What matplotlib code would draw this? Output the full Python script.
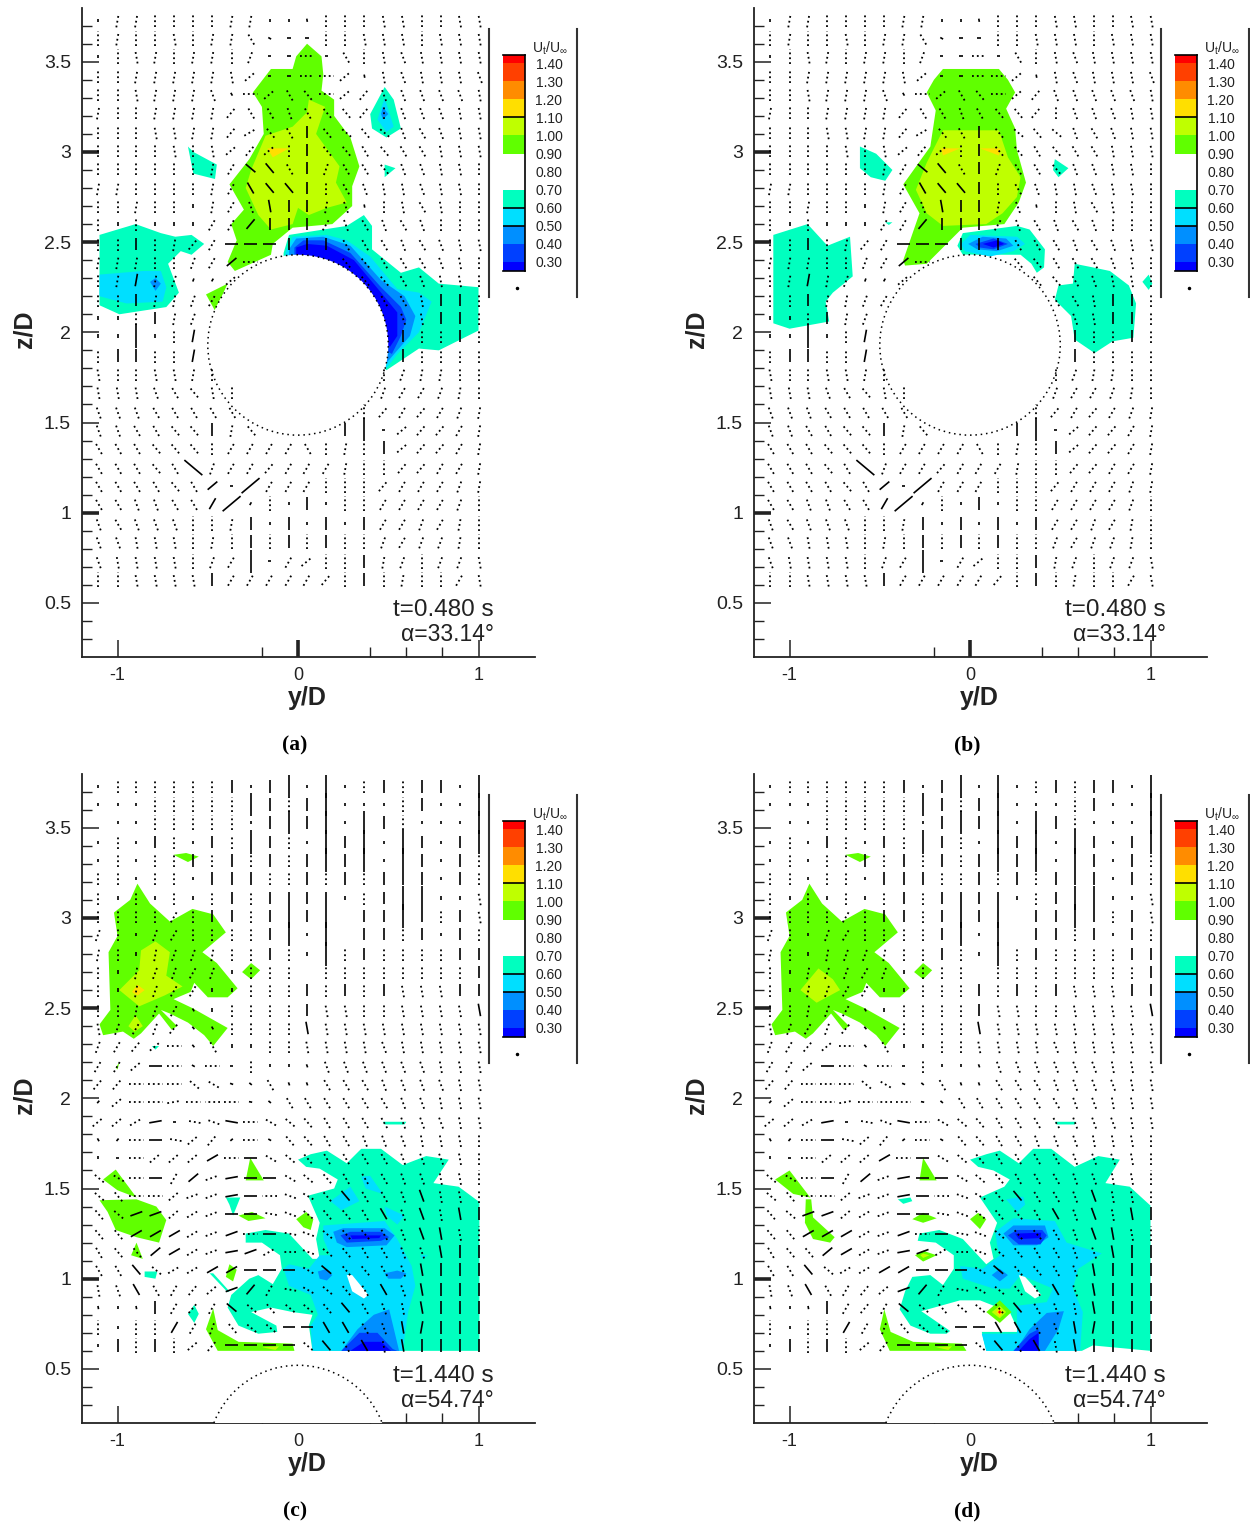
import numpy as np
from matplotlib import pyplot as plt
from matplotlib.collections import LineCollection
from matplotlib.lines import Line2D
from matplotlib.patches import Circle

W, H = 1250, 1525

plt.rcParams['font.family'] = ['Liberation Sans', 'DejaVu Sans']
plt.rcParams['mathtext.default'] = 'regular'

colors = {'dark': '#0000ff', 'blue': '#0040ff', 'light': '#008fff', 'cyan': '#00dfff',
          'teal': '#00ffbf', 'white': '#ffffff', 'green': '#60ff00', 'lime': '#bfff00',
          'yellow': '#ffdf00', 'orange': '#ff8c00', 'redor': '#ff4000', 'red': '#ff0000'}

# legend
band_edges = [0.25, 0.30, 0.40, 0.50, 0.60, 0.70, 0.90, 1.00, 1.10, 1.20, 1.30, 1.40, 1.445]
band_names = ['dark', 'blue', 'light', 'cyan', 'teal', 'white', 'green', 'lime', 'yellow', 'orange', 'redor', 'red']
legend_levels = [0.30, 0.40, 0.50, 0.60, 0.70, 0.80, 0.90, 1.00, 1.10, 1.20, 1.30, 1.40]
legend_lines = [0.50, 0.60, 1.10]

# vector grid
grid_y = [-1.107, -1.0, -0.896, -0.79, -0.685, -0.58, -0.474, -0.368, -0.263, -0.157, -0.05,
          0.05, 0.157, 0.263, 0.368, 0.474, 0.58, 0.685, 0.79, 0.896, 1.005]
grid_z = [3.73, 3.63, 3.53, 3.42, 3.32, 3.22, 3.11, 3.01, 2.91, 2.80, 2.70, 2.60, 2.49, 2.39, 2.29, 2.18,
          2.08, 1.98, 1.87, 1.77, 1.67, 1.56, 1.46, 1.36, 1.25, 1.15, 1.05, 0.94, 0.84, 0.73, 0.63]
vec_len = [0, 0.018, 0.08, 0.07, 0.13]

# tilt in tens of degrees from vertical, + leans right
tilt_early = [
    [0,1,1,0,0,0,0,1,1,0,0,-1,0,0,0,-1,-1,0,0,-1,-1],
    [0,1,0,0,-1,0,1,1,-3,-6,9,9,0,0,-1,-1,-1,0,-1,-1,-1],
    [0,0,-1,1,0,1,1,0,2,9,9,9,9,-3,0,-1,-2,-1,-1,-1,-1],
    [0,0,1,1,1,1,1,-1,5,9,9,9,9,5,-1,-1,-2,-1,-1,-1,-2],
    [0,0,-1,1,1,1,-2,-3,9,5,-3,-4,9,5,4,-2,-2,-2,-2,-2,-1],
    [1,0,0,1,1,1,1,4,-3,-3,-2,-3,-4,-4,4,0,-2,-2,-2,-1,-1],
    [0,0,0,-1,-1,1,1,4,6,-4,-3,0,-4,-5,-4,-5,-2,-3,-2,-1,-1],
    [0,0,0,0,-1,0,-1,5,4,5,0,0,-4,-4,-3,-4,-3,-3,-1,-1,-1],
    [0,0,0,0,0,0,1,3,-5,-4,-3,0,2,-3,-3,-4,-2,-2,-1,-1,0],
    [1,1,0,0,0,0,1,3,-3,-4,-4,0,0,-3,-2,-1,-1,-2,-1,-1,0],
    [0,0,1,0,0,0,1,3,-2,-1,0,0,1,-2,-1,0,-1,-3,-1,0,0],
    [0,0,0,0,0,0,3,3,4,0,0,0,3,-2,-3,-2,-3,-2,0,0,0],
    [0,0,0,0,1,4,3,9,9,9,0,0,0,-3,-3,-3,-2,-3,-2,-1,-1],
    [1,1,1,0,0,2,3,5,9,0,0,0,0,-4,-4,-3,-3,-3,-2,-1,0],
    [0,1,1,1,2,2,3,5,0,0,0,0,0,0,-4,-4,-3,-2,-1,-1,0],
    [0,0,0,1,1,2,3,0,0,0,0,0,0,0,0,-3,-3,-1,0,0,0],
    [0,0,0,0,1,2,0,0,0,0,0,0,0,0,0,0,-2,-1,0,0,0],
    [0,0,0,0,0,1,0,0,0,0,0,0,0,0,0,0,0,0,0,0,0],
    [0,0,0,0,0,1,0,0,0,0,0,0,0,0,0,0,0,0,0,0,0],
    [-1,0,0,-1,-1,1,0,0,0,0,0,0,0,0,0,0,2,1,1,0,0],
    [-1,-1,-1,-2,-3,-4,-1,0,0,0,0,0,0,0,0,2,3,3,2,1,0],
    [-2,-2,-2,-3,-3,-3,-3,-3,0,0,0,0,0,0,0,4,3,4,3,2,1],
    [-2,-2,-3,-3,-4,-4,0,1,-4,0,0,0,0,0,0,9,5,4,4,3,1],
    [-3,-3,-3,-4,-4,-4,0,3,3,3,3,-3,0,1,0,0,5,4,4,3,1],
    [-3,-3,-3,-4,-3,-5,2,3,3,4,3,3,3,1,0,0,4,4,3,3,1],
    [-3,-3,-3,-3,-4,-3,5,9,5,3,3,3,0,0,0,4,3,3,3,2,1],
    [-3,-3,-2,-2,-3,-3,3,5,3,0,0,0,0,0,0,3,3,3,3,2,0],
    [-2,-3,-2,-2,-2,0,0,1,0,0,0,0,0,0,0,3,3,2,3,1,0],
    [-2,-2,-1,-1,-1,0,1,0,0,0,0,0,0,0,0,2,3,2,2,1,0],
    [-2,-1,-1,-1,-1,0,2,3,0,9,3,5,0,0,0,1,2,0,2,2,-1],
    [0,0,-1,-1,-1,-1,0,3,3,3,3,3,4,0,0,0,1,0,0,3,-1],
]
size_early = [
    [1,2,2,2,2,2,2,2,2,1,1,1,2,2,2,2,2,2,2,2,2],
    [2,2,2,2,2,2,2,2,2,1,1,1,2,2,2,2,2,2,2,2,2],
    [1,2,2,2,2,2,2,2,2,1,1,2,1,2,2,2,2,2,2,2,2],
    [2,2,2,2,2,2,2,2,2,1,1,2,2,2,1,2,2,2,2,2,2],
    [2,2,2,2,2,2,2,1,2,2,2,2,2,2,2,2,2,2,2,2,2],
    [2,2,2,2,2,2,2,2,2,2,2,2,2,2,2,2,2,2,2,2,2],
    [2,2,2,2,2,2,2,2,2,2,2,3,2,2,2,2,2,2,2,2,2],
    [2,2,2,2,2,2,2,2,2,2,2,3,2,2,2,2,2,2,2,2,2],
    [2,2,2,2,2,2,2,2,3,3,2,3,2,2,2,2,2,2,2,2,2],
    [2,2,2,2,2,2,2,2,3,3,3,3,2,2,2,2,2,2,2,2,2],
    [2,2,2,2,2,1,2,2,2,3,3,3,2,2,1,2,2,2,2,2,2],
    [2,1,2,1,1,1,2,2,3,3,3,3,2,2,2,2,2,2,2,2,2],
    [2,2,3,2,2,2,2,3,3,3,3,3,3,2,2,2,2,2,2,2,2],
    [2,2,2,2,2,2,2,3,2,0,0,0,0,2,2,2,2,2,2,2,2],
    [2,2,3,2,2,1,1,2,0,0,0,0,0,0,2,2,2,2,2,2,2],
    [2,2,3,2,2,2,2,0,0,0,0,0,0,0,0,2,2,2,3,3,2],
    [1,1,2,3,2,2,0,0,0,0,0,0,0,0,0,0,2,2,3,3,2],
    [1,1,4,1,2,3,0,0,0,0,0,0,0,0,0,0,3,2,2,3,2],
    [2,3,3,2,2,3,0,0,0,0,0,0,0,0,0,0,3,2,2,2,2],
    [2,2,2,2,2,2,2,0,0,0,0,0,0,0,0,2,2,2,2,2,2],
    [2,2,2,2,2,2,2,2,0,0,0,0,0,0,0,2,2,2,2,2,2],
    [2,2,2,2,2,2,2,2,0,0,0,0,0,0,2,2,2,2,2,2,2],
    [2,2,2,2,2,2,3,2,2,0,0,0,0,3,4,1,2,2,2,2,2],
    [2,2,2,2,2,2,2,2,2,2,2,2,2,2,2,3,2,2,2,2,2],
    [2,2,2,2,2,4,2,2,2,2,2,2,2,2,2,2,2,2,2,2,2],
    [2,2,2,2,2,2,3,1,4,2,2,2,2,2,2,2,2,2,2,2,2],
    [2,2,2,2,2,2,3,4,1,2,1,3,1,2,2,2,2,2,2,2,2],
    [2,2,2,2,2,2,2,2,3,1,3,1,3,1,3,2,2,2,2,2,2],
    [2,2,2,2,2,2,2,2,3,2,3,2,3,2,2,2,2,2,2,2,2],
    [2,2,2,2,2,2,2,2,4,1,2,2,2,2,3,2,2,2,2,2,2],
    [2,2,2,2,2,2,3,2,2,2,2,2,2,2,3,2,2,2,2,2,2],
]
tilt_late = [
    [0,0,0,0,0,0,0,0,0,0,0,0,0,0,0,0,0,0,0,0,0],
    [0,0,0,0,0,0,0,0,0,0,0,0,0,0,0,0,0,0,0,0,0],
    [0,0,0,0,0,0,0,0,0,0,0,0,0,0,0,0,0,0,0,0,0],
    [0,0,0,0,0,0,0,0,0,0,0,0,0,0,0,0,0,0,0,0,0],
    [0,0,0,0,0,0,0,0,0,0,0,0,0,0,0,0,0,0,0,0,0],
    [0,0,0,0,0,0,0,0,0,0,0,0,0,0,0,0,0,0,0,0,0],
    [0,0,0,0,0,0,0,0,0,0,0,0,0,0,0,0,0,0,0,0,-1],
    [0,0,0,0,3,0,0,0,0,0,0,0,0,0,0,0,0,0,0,0,-1],
    [2,0,0,2,3,0,0,0,0,0,0,0,0,0,0,0,0,0,0,0,0],
    [1,0,0,1,2,2,1,0,0,0,0,0,0,0,0,0,0,0,0,0,0],
    [0,0,1,2,2,3,2,0,0,0,0,0,0,0,0,0,0,0,0,0,0],
    [0,0,1,2,3,3,0,0,0,0,0,0,0,0,0,0,-1,-1,-1,0,0],
    [0,0,1,2,3,-3,0,0,0,0,0,0,-1,-1,0,0,-1,-1,-1,-1,-1],
    [-1,2,3,2,4,-4,-3,0,0,0,0,-1,-1,-1,-1,-1,-1,-1,-1,-1,-1],
    [2,3,4,5,9,-4,-3,0,0,0,0,-1,-1,-1,-1,-2,-1,-1,-1,-1,-1],
    [3,3,5,9,9,-6,9,9,0,0,0,-2,-2,-2,-2,-2,-2,-2,-1,-1,-1],
    [4,4,9,9,9,-5,-6,-7,-5,-3,-2,-2,-3,-3,-3,-2,-2,-2,-2,-1,-1],
    [4,5,9,9,8,9,-9,9,-8,-5,-3,-3,-3,-3,-3,-3,-2,-2,-1,-1,-1],
    [5,5,6,8,9,-8,-7,-8,9,-6,-5,-4,-3,-3,-3,-3,-2,-2,-2,-1,-1],
    [-3,4,9,9,-8,5,4,5,9,-6,-4,-4,-3,-3,-2,-2,-2,-1,-1,-1,0],
    [0,9,9,5,5,5,6,9,9,-6,-5,-4,-3,-3,-3,-3,-2,-2,-2,-1,0],
    [-5,-6,9,9,3,5,7,8,9,9,-6,-5,-4,-3,-3,-3,-2,-2,-1,-1,0],
    [-5,-4,9,9,5,7,7,8,9,-9,-7,-6,-4,-4,-3,-3,-2,-2,-1,-1,0],
    [-4,-5,7,7,5,6,7,9,9,-8,-7,-5,-4,-4,-3,-3,-2,-2,-1,-1,0],
    [-4,-4,6,6,6,6,7,7,9,-9,-8,-7,-5,-4,-4,-3,-2,-2,-1,-1,0],
    [-3,-4,-4,5,6,6,7,8,7,6,-9,-7,-5,-4,-3,-3,-2,-2,-1,0,0],
    [-3,-3,-4,-5,6,6,6,6,9,9,9,-6,-5,-4,-4,-3,-2,-1,0,0,0],
    [-1,-2,-3,-3,3,4,5,7,4,3,-8,-6,-5,-4,-3,-3,-2,-1,0,0,0],
    [-1,0,-1,0,3,4,3,-5,-5,-4,-5,-5,-4,-4,-3,-2,-1,-1,0,0,0],
    [0,0,0,0,3,3,2,-4,-5,-5,9,9,-3,-3,-3,-2,-1,1,0,0,0],
    [0,0,0,0,0,5,4,9,9,9,9,-5,-4,-3,-3,-1,-1,0,0,0,0],
]
size_late = [
    [1,2,2,2,2,2,2,3,1,3,4,1,4,1,2,3,2,3,3,1,4],
    [1,1,1,2,2,2,2,2,4,3,2,3,4,1,1,1,2,3,1,1,4],
    [0,1,1,2,2,2,2,2,1,3,4,3,4,1,4,3,2,1,1,1,4],
    [1,2,1,3,2,1,3,2,4,3,2,1,4,3,4,1,4,3,1,3,4],
    [1,2,1,2,2,3,2,3,2,3,2,3,4,3,4,1,4,3,1,3,2],
    [2,2,1,2,2,1,3,3,3,2,2,3,2,3,2,3,3,3,1,3,2],
    [2,1,2,1,2,1,2,3,2,3,3,3,3,1,2,3,4,4,1,1,2],
    [2,2,2,2,2,2,3,3,2,3,4,3,4,0,3,3,4,3,2,3,2],
    [2,2,1,2,2,2,2,2,2,3,4,1,4,0,3,3,2,3,1,3,2],
    [2,2,1,2,2,2,2,2,2,3,2,1,4,2,3,2,2,2,2,3,3],
    [2,1,2,2,2,2,2,1,2,2,2,0,2,2,2,2,2,2,2,2,3],
    [2,1,2,2,2,2,1,1,2,2,2,3,2,3,2,3,2,2,2,3,3],
    [2,2,2,2,2,1,1,2,2,2,2,3,2,2,2,2,2,2,2,2,3],
    [2,2,2,2,2,1,1,2,2,2,2,3,2,2,2,2,2,2,2,2,2],
    [2,2,2,2,2,1,2,1,1,2,2,2,2,2,2,2,2,2,2,2,2],
    [2,2,2,3,2,1,2,1,2,1,1,1,2,2,2,2,2,2,2,2,2],
    [2,2,2,2,2,2,2,1,1,2,1,1,2,2,2,2,2,2,2,2,2],
    [1,2,2,2,2,2,2,2,1,1,2,2,2,2,2,2,2,2,2,2,2],
    [2,2,2,3,1,2,2,3,2,2,2,2,2,2,2,2,2,2,2,2,2],
    [1,1,2,3,2,2,2,1,2,1,2,2,2,2,2,2,2,2,2,2,2],
    [1,1,2,2,2,2,3,2,3,2,2,2,2,2,2,2,2,2,2,2,2],
    [2,2,2,3,2,3,2,3,3,3,2,2,2,2,2,2,2,2,2,2,2],
    [2,2,2,2,2,2,2,3,3,2,2,2,2,3,2,2,2,3,2,2,2],
    [2,2,3,3,2,2,2,3,3,2,2,2,2,2,2,3,2,3,2,3,3],
    [2,2,3,3,3,2,2,3,2,3,2,2,2,2,2,2,2,3,3,2,2],
    [2,2,2,3,3,2,2,3,3,2,2,2,2,2,2,2,2,2,3,3,3],
    [2,2,3,2,2,2,3,3,3,3,3,2,3,2,2,2,2,3,3,3,3],
    [2,2,3,2,2,2,2,3,3,2,2,2,2,2,2,3,2,3,3,3,3],
    [1,1,1,3,2,2,2,3,2,2,2,2,2,3,2,2,2,3,3,3,3],
    [2,1,2,2,3,2,2,2,2,2,3,3,3,3,2,2,3,3,3,3,3],
    [1,3,2,3,2,2,2,3,3,3,3,2,3,2,3,2,3,3,3,3,3],
]

# filled levels, drawn in this order (y/D, z/D)
regions_a = [
    ('green', [(0.05,3.60),(0.13,3.53),(0.14,3.43),(0.13,3.34),(0.20,3.29),(0.20,3.20),(0.29,3.08),(0.34,2.92),(0.30,2.81),(0.30,2.70),(0.19,2.60),(-0.03,2.58),(-0.14,2.49),(-0.15,2.43),(-0.35,2.34),(-0.39,2.39),(-0.34,2.51),(-0.37,2.60),(-0.30,2.68),(-0.38,2.82),(-0.27,2.96),(-0.19,3.10),(-0.20,3.25),(-0.25,3.33),(-0.15,3.46),(-0.03,3.46),(-0.01,3.53)]),
    ('lime', [(0.06,3.29),(0.15,3.25),(0.10,3.10),(0.23,2.92),(0.21,2.83),(0.27,2.72),(0.16,2.69),(0.06,2.65),(0,2.69),(-0.03,2.60),(-0.15,2.57),(-0.22,2.65),(-0.29,2.80),(-0.26,2.90),(-0.18,3.09),(-0.03,3.14),(0.05,3.22)]),
    ('yellow', [(-0.17,3.02),(-0.05,3.02),(-0.14,2.97)]),
    ('teal', [(-1.10,2.54),(-0.90,2.60),(-0.76,2.55),(-0.68,2.53),(-0.59,2.54),(-0.52,2.49),(-0.59,2.43),(-0.65,2.45),(-0.72,2.38),(-0.66,2.22),(-0.73,2.14),(-0.99,2.10),(-1.10,2.15)]),
    ('cyan', [(-1.10,2.32),(-0.86,2.34),(-0.76,2.34),(-0.73,2.25),(-0.75,2.17),(-0.95,2.16),(-1.10,2.20)]),
    ('light', [(-0.82,2.28),(-0.79,2.30),(-0.76,2.27),(-0.79,2.23)]),
    ('teal', [(-0.61,3.03),(-0.58,3.0),(-0.45,2.93),(-0.46,2.85),(-0.58,2.88)]),
    ('teal', [(0.48,3.36),(0.53,3.29),(0.57,3.13),(0.49,3.08),(0.41,3.13),(0.40,3.21)]),
    ('cyan', [(0.48,3.30),(0.53,3.14),(0.49,3.11),(0.44,3.18)]),
    ('light', [(0.47,3.25),(0.50,3.21),(0.47,3.18),(0.46,3.21)]),
    ('teal', [(0.48,2.93),(0.54,2.91),(0.48,2.86)]),
    ('green', [(-0.51,2.21),(-0.39,2.27),(-0.46,2.12)]),
    ('teal', [(-0.08,2.44),(-0.05,2.54),(0.27,2.59),(0.365,2.65),(0.41,2.59),(0.41,2.46),(0.57,2.33),(0.67,2.36),(0.78,2.27),(1.0,2.25),(1.0,2.01),(0.78,1.90),(0.67,1.91),(0.49,1.79),(0.18,2.09),(-0.08,2.37)]),
    ('cyan', [(-0.07,2.44),(-0.03,2.53),(0.16,2.54),(0.27,2.51),(0.40,2.42),(0.55,2.24),(0.67,2.22),(0.74,2.17),(0.67,2.0),(0.55,1.88),(0.49,1.80),(0.18,2.09),(-0.07,2.37)]),
    ('light', [(-0.05,2.46),(-0.01,2.52),(0.14,2.53),(0.29,2.48),(0.46,2.29),(0.59,2.20),(0.65,2.09),(0.62,1.98),(0.55,1.90),(0.49,1.83),(0.18,2.09),(-0.05,2.37)]),
    ('blue', [(-0.02,2.47),(0.03,2.51),(0.14,2.51),(0.29,2.44),(0.46,2.25),(0.57,2.14),(0.60,2.07),(0.57,1.98),(0.52,1.88),(0.18,2.09),(-0.02,2.37)]),
    ('dark', [(-0.01,2.47),(0.05,2.49),(0.16,2.48),(0.31,2.40),(0.46,2.22),(0.55,2.11),(0.55,1.98),(0.51,1.92),(0.18,2.09),(-0.01,2.37)]),
]
regions_b = [
    ('green', [(-0.15,3.46),(0.16,3.46),(0.21,3.40),(0.25,3.33),(0.20,3.24),(0.25,3.13),(0.26,3.01),(0.31,2.83),(0.27,2.72),(0.19,2.60),(-0.04,2.58),(-0.13,2.49),(-0.24,2.38),(-0.36,2.37),(-0.37,2.40),(-0.28,2.66),(-0.37,2.82),(-0.22,3.03),(-0.19,3.23),(-0.24,3.33),(-0.20,3.40)]),
    ('lime', [(-0.15,3.12),(0.16,3.12),(0.21,2.97),(0.28,2.86),(0.26,2.75),(0.18,2.66),(0.09,2.60),(-0.15,2.59),(-0.24,2.66),(-0.30,2.79),(-0.24,2.94),(-0.18,3.06)]),
    ('yellow', [(-0.16,3.02),(0.17,3.02),(0.16,2.98),(0.055,3.02),(-0.055,3.02),(-0.15,2.98)]),
    ('teal', [(-1.09,2.54),(-0.90,2.60),(-0.79,2.48),(-0.665,2.53),(-0.65,2.31),(-0.76,2.22),(-0.80,2.17),(-0.78,2.06),(-1.0,2.02),(-1.09,2.05)]),
    ('teal', [(-0.61,3.03),(-0.52,2.99),(-0.43,2.90),(-0.47,2.84),(-0.55,2.86),(-0.61,2.91)]),
    ('teal', [(0.47,2.96),(0.545,2.91),(0.49,2.86),(0.46,2.90)]),
    ('teal', [(-0.47,2.61),(-0.43,2.61),(-0.45,2.595)]),
    ('teal', [(-0.07,2.48),(-0.04,2.55),(0.26,2.59),(0.33,2.57),(0.415,2.46),(0.41,2.36),(0.37,2.33),(0.34,2.38),(0.28,2.43),(0.17,2.43),(-0.04,2.43)]),
    ('cyan', [(-0.05,2.49),(0,2.54),(0.26,2.53),(0.305,2.49),(0.24,2.45),(0.11,2.42),(-0.03,2.45)]),
    ('light', [(-0.01,2.49),(0.07,2.53),(0.20,2.52),(0.24,2.48),(0.15,2.45),(0.04,2.46)]),
    ('blue', [(0.03,2.49),(0.13,2.52),(0.21,2.49),(0.13,2.46),(0.055,2.47)]),
    ('dark', [(0.07,2.49),(0.15,2.51),(0.19,2.49),(0.13,2.47)]),
    ('teal', [(0.58,2.38),(0.68,2.36),(0.775,2.34),(0.88,2.26),(0.92,2.16),(0.905,1.97),(0.79,1.95),(0.69,1.885),(0.58,1.96),(0.56,2.09),(0.47,2.18),(0.49,2.26),(0.57,2.27)]),
    ('teal', [(0.99,2.32),(1.01,2.27),(0.99,2.235),(0.955,2.28)]),
]
blob_green = [(-0.89,3.19),(-0.82,3.08),(-0.71,2.98),(-0.585,3.05),(-0.47,3.02),(-0.40,2.92),(-0.53,2.81),(-0.45,2.75),(-0.335,2.61),(-0.39,2.56),(-0.50,2.56),(-0.575,2.64),(-0.595,2.59),(-0.69,2.55),(-0.585,2.50),(-0.39,2.39),(-0.47,2.29),(-0.52,2.35),(-0.61,2.42),(-0.71,2.47),(-0.76,2.49),(-0.67,2.40),(-0.70,2.38),(-0.77,2.47),(-0.87,2.36),(-0.91,2.33),(-0.97,2.37),(-1.08,2.35),(-1.10,2.41),(-1.04,2.49),(-1.05,2.81),(-1.0,2.90),(-1.02,3.03),(-0.93,3.10)]
sliver_top = [(-0.69,3.35),(-0.62,3.36),(-0.55,3.34),(-0.61,3.31)]
diamond_mid = [(-0.26,2.75),(-0.21,2.71),(-0.26,2.66),(-0.31,2.70)]
regions_c = [
    ('green', blob_green),
    ('lime', [(-0.79,2.87),(-0.71,2.81),(-0.73,2.68),(-0.64,2.62),(-0.74,2.57),(-0.88,2.51),(-0.99,2.60),(-0.88,2.71),(-0.87,2.82)]),
    ('lime', [(-0.90,2.46),(-0.86,2.40),(-0.905,2.37),(-0.94,2.40)]),
    ('yellow', [(-0.89,2.63),(-0.85,2.60),(-0.89,2.57),(-0.92,2.59)]),
    ('green', diamond_mid),
    ('green', sliver_top),
    ('teal', [(-0.81,2.29),(-0.77,2.29),(-0.79,2.27)]),
    ('green', [(-1.01,2.17),(-0.99,2.20),(-1.0,2.16)]),
    ('teal', [(0,1.66),(0.07,1.69),(0.16,1.71),(0.27,1.64),(0.35,1.72),(0.46,1.72),(0.58,1.63),(0.71,1.68),(0.835,1.66),(0.75,1.53),(0.89,1.51),(1.005,1.425),(1.005,0.60),(0.08,0.60),(0.06,0.74),(0.08,0.80),(-0.03,0.815),(-0.15,0.84),(-0.26,0.815),(-0.12,0.74),(-0.115,0.705),(-0.22,0.695),(-0.33,0.74),(-0.39,0.84),(-0.37,0.91),(-0.27,1.0),(-0.22,1.02),(-0.14,0.97),(-0.09,1.055),(-0.10,1.13),(-0.20,1.20),(-0.29,1.20),(-0.29,1.25),(-0.18,1.27),(-0.05,1.25),(0.08,1.11),(0.12,1.11),(0.10,1.22),(0.12,1.31),(0.055,1.46),(0.20,1.50),(0.22,1.55),(0.12,1.61),(0.045,1.62)]),
    ('cyan', [(0.14,1.295),(0.48,1.32),(0.55,1.22),(0.63,1.07),(0.65,0.96),(0.61,0.815),(0.58,0.60),(0.08,0.60),(0.07,0.74),(0.11,0.80),(0.07,0.91),(-0.05,0.96),(-0.08,1.055),(-0.05,1.08),(0.06,1.055),(0.12,1.13),(0.18,1.13),(0.14,1.22)]),
    ('cyan', [(0.18,1.43),(0.29,1.51),(0.34,1.43),(0.24,1.38)]),
    ('cyan', [(0.48,1.40),(0.59,1.35),(0.55,1.30),(0.49,1.35)]),
    ('cyan', [(0.35,1.565),(0.40,1.57),(0.47,1.47),(0.375,1.50)]),
    ('cyan', [(0.675,1.13),(0.72,1.13),(0.69,1.11)]),
    ('white', [(0.27,1.02),(0.30,1.02),(0.39,0.91),(0.365,0.89),(0.30,0.93)]),
    ('light', [(0.195,1.26),(0.25,1.28),(0.48,1.28),(0.535,1.24),(0.49,1.185),(0.27,1.175),(0.215,1.20)]),
    ('light', [(0.11,1.04),(0.16,1.055),(0.19,1.02),(0.16,0.99),(0.12,1.0)]),
    ('light', [(0.48,1.03),(0.55,1.045),(0.60,1.03),(0.57,1.0),(0.50,1.0)]),
    ('light', [(0.24,0.60),(0.33,0.72),(0.42,0.80),(0.505,0.83),(0.56,0.60)]),
    ('blue', [(0.24,0.60),(0.34,0.70),(0.44,0.70),(0.525,0.61),(0.55,0.60)]),
    ('dark', [(0.29,0.60),(0.365,0.65),(0.46,0.65),(0.515,0.60)]),
    ('blue', [(0.235,1.24),(0.29,1.26),(0.46,1.26),(0.505,1.23),(0.46,1.21),(0.27,1.20)]),
    ('dark', [(0.29,1.24),(0.46,1.24),(0.45,1.225),(0.30,1.22)]),
    ('green', [(-1.08,1.55),(-1.01,1.605),(-0.895,1.45),(-1.0,1.49)]),
    ('green', [(-1.10,1.435),(-0.895,1.44),(-0.785,1.40),(-0.73,1.325),(-0.77,1.20),(-0.895,1.23),(-1.01,1.27),(-1.055,1.37)]),
    ('green', [(-0.895,1.20),(-0.86,1.11),(-0.925,1.13)]),
    ('teal', [(-0.85,1.04),(-0.78,1.04),(-0.79,1.0),(-0.85,1.01)]),
    ('green', [(-0.265,1.67),(-0.19,1.545),(-0.29,1.545)]),
    ('teal', [(-0.40,1.45),(-0.32,1.45),(-0.36,1.35),(-0.38,1.41)]),
    ('green', [(-0.33,1.35),(-0.255,1.37),(-0.18,1.335),(-0.275,1.32)]),
    ('green', [(-0.01,1.33),(0.045,1.37),(0.085,1.33),(0.07,1.27),(0.03,1.285)]),
    ('green', [(-0.38,1.08),(-0.34,1.05),(-0.36,0.985),(-0.40,1.01)]),
    ('teal', [(-0.49,1.03),(-0.47,1.03),(-0.38,0.93),(-0.39,0.925)]),
    ('teal', [(-0.575,0.855),(-0.55,0.805),(-0.575,0.755),(-0.61,0.805)]),
    ('green', [(-0.47,0.835),(-0.445,0.715),(-0.33,0.65),(-0.03,0.64),(-0.02,0.60),(-0.445,0.60),(-0.51,0.72)]),
    ('lime', [(-0.20,0.62),(-0.105,0.625),(-0.125,0.605)]),
    ('teal', [(0.47,1.87),(0.60,1.87),(0.59,1.855),(0.48,1.855)]),
]
regions_d = [
    ('green', blob_green),
    ('lime', [(-0.84,2.72),(-0.76,2.66),(-0.72,2.60),(-0.85,2.53),(-0.94,2.60)]),
    ('green', diamond_mid),
    ('green', sliver_top),
    ('teal', [(0,1.66),(0.09,1.69),(0.165,1.71),(0.27,1.64),(0.35,1.72),(0.45,1.72),(0.58,1.62),(0.71,1.68),(0.83,1.66),(0.75,1.53),(0.885,1.51),(1.0,1.405),(1.0,0.60),(0.68,0.63),(0.62,0.60),(0.09,0.60),(0.065,0.705),(0.27,0.705),(0.22,0.815),(0.055,0.88),(-0.055,0.88),(-0.27,0.82),(-0.11,0.71),(-0.13,0.695),(-0.22,0.695),(-0.33,0.74),(-0.39,0.83),(-0.36,0.93),(-0.32,1.01),(-0.22,1.02),(-0.15,0.965),(-0.09,1.055),(-0.09,1.13),(-0.19,1.20),(-0.29,1.21),(-0.28,1.25),(-0.17,1.27),(-0.04,1.22),(0.09,1.08),(0.13,1.11),(0.11,1.20),(0.15,1.31),(0.055,1.45),(0.19,1.51),(0.22,1.55),(0.13,1.60),(0.045,1.62)]),
    ('cyan', [(0.14,1.26),(0.24,1.335),(0.47,1.32),(0.535,1.20),(0.73,1.14),(0.60,1.055),(0.57,0.945),(0.625,0.815),(0.61,0.60),(0.09,0.60),(0.065,0.695),(0.26,0.695),(0.26,0.85),(0.425,0.87),(0.46,0.945),(0.28,1.02),(0.22,0.945),(0.13,0.945),(-0.04,1.0),(-0.055,1.07),(0.07,1.055),(0.165,1.13),(0.15,1.185)]),
    ('cyan', [(0.20,1.44),(0.295,1.455),(0.305,1.41),(0.26,1.37)]),
    ('white', [(0.27,1.02),(0.305,1.01),(0.395,0.91),(0.36,0.89),(0.305,0.93)]),
    ('light', [(0.185,1.25),(0.24,1.295),(0.415,1.295),(0.435,1.23),(0.37,1.185),(0.24,1.185)]),
    ('light', [(0.12,1.02),(0.165,1.055),(0.21,1.02),(0.165,0.985)]),
    ('light', [(0.25,0.60),(0.33,0.72),(0.425,0.81),(0.52,0.82),(0.49,0.72),(0.415,0.60)]),
    ('blue', [(0.24,0.60),(0.33,0.695),(0.38,0.72),(0.38,0.60)]),
    ('dark', [(0.27,0.60),(0.33,0.665),(0.38,0.70),(0.38,0.60)]),
    ('blue', [(0.21,1.24),(0.26,1.27),(0.40,1.27),(0.425,1.24),(0.39,1.19),(0.27,1.19)]),
    ('dark', [(0.25,1.25),(0.395,1.255),(0.39,1.225),(0.27,1.22)]),
    ('green', [(-1.08,1.55),(-1.0,1.60),(-0.885,1.45),(-0.98,1.47)]),
    ('green', [(-0.91,1.44),(-0.88,1.44),(-0.87,1.34),(-0.75,1.23),(-0.775,1.20),(-0.87,1.22),(-0.915,1.31)]),
    ('green', [(-0.26,1.67),(-0.185,1.545),(-0.28,1.545)]),
    ('teal', [(-0.40,1.44),(-0.33,1.45),(-0.32,1.43),(-0.37,1.415)]),
    ('green', [(-0.32,1.33),(-0.26,1.365),(-0.185,1.335),(-0.26,1.31)]),
    ('green', [(0,1.33),(0.045,1.365),(0.09,1.33),(0.055,1.275)]),
    ('green', [(-0.305,1.13),(-0.26,1.155),(-0.185,1.13),(-0.26,1.095)]),
    ('lime', [(-0.275,1.13),(-0.26,1.14),(-0.225,1.13),(-0.26,1.115)]),
    ('green', [(0.165,0.88),(0.23,0.815),(0.165,0.755),(0.09,0.815)]),
    ('lime', [(0.165,0.85),(0.20,0.815),(0.165,0.78),(0.12,0.815)]),
    ('yellow', [(0.165,0.835),(0.18,0.815),(0.165,0.79),(0.145,0.815)]),
    ('red', [(0.165,0.825),(0.172,0.815),(0.165,0.805),(0.155,0.815)]),
    ('green', [(-0.475,0.83),(-0.44,0.705),(-0.315,0.65),(-0.045,0.64),(-0.02,0.60),(-0.445,0.60),(-0.50,0.72)]),
    ('lime', [(-0.19,0.62),(-0.10,0.625),(-0.12,0.605)]),
    ('teal', [(0.47,1.87),(0.59,1.87),(0.58,1.855),(0.48,1.855)]),
]

y_major = [0.5, 1, 1.5, 2, 2.5, 3, 3.5]
y_major_labels = ['0.5', '1', '1.5', '2', '2.5', '3', '3.5']
y_thick = [1, 2.5, 3]
y_minor = [0.3, 0.4, 0.6, 0.7, 0.8, 0.9, 1.1, 1.2, 1.3, 1.4, 1.6, 1.7, 1.8, 1.9, 2.1, 2.2, 2.3, 2.4,
           2.6, 2.7, 2.8, 2.9, 3.1, 3.2, 3.3, 3.4, 3.6, 3.7]
x_major = [-1, 0, 1]
x_minor = [-0.2, 0.4, 0.6, 0.8]

ink = '#222222'


def px_axes(left, right, top, bottom):
    return fig.add_axes([left / W, 1 - bottom / H, (right - left) / W, (bottom - top) / H])


def draw_vectors(ax, tilt, size):
    solid = []
    dotted = []
    for i, z in enumerate(grid_z):
        for j, y in enumerate(grid_y):
            n = size[i][j]
            if n == 0:
                continue
            a = np.radians(tilt[i][j] * 10)
            half = vec_len[n] / 2
            seg = [(y - half * np.sin(a), z - half * np.cos(a)), (y + half * np.sin(a), z + half * np.cos(a))]
            if n == 2:
                dotted.append(seg)
            else:
                solid.append(seg)
    ax.add_collection(LineCollection(solid, colors='k', linewidths=1.2, zorder=4))
    ax.add_collection(LineCollection(dotted, colors='k', linewidths=1.3, linestyles=[(0, (1.0, 1.7))], zorder=4))


def panel(left, top, regions, tilt, size, circle_z, time_text, alpha_text, tag):
    ax = px_axes(left, left + 453, top, top + 649)
    ax.set_xlim(-1.197, 1.313)
    ax.set_ylim(0.2, 3.798)
    for name, poly in regions:
        xs, zs = zip(*poly)
        ax.fill(xs, zs, color=colors[name], lw=0, zorder=2)
    ax.add_patch(Circle((0, circle_z), 0.5, fc='white', ec='k', lw=1.1, ls=(0, (1, 2.5)), zorder=3))
    draw_vectors(ax, tilt, size)

    for s in ['top', 'right']:
        ax.spines[s].set_visible(False)
    for s in ['left', 'bottom']:
        ax.spines[s].set_linewidth(1.3)
        ax.spines[s].set_color(ink)
    ax.set_xticks(x_major)
    ax.set_xticklabels(['-1', '0', '1'], fontsize=13, color=ink)
    ax.set_xticks(x_minor, minor=True)
    ax.set_yticks(y_major)
    ax.set_yticklabels(y_major_labels, fontsize=14, color=ink)
    ax.set_yticks(y_minor, minor=True)
    ax.tick_params(axis='x', which='major', direction='in', length=12, width=1.1, color=ink, pad=7)
    ax.tick_params(axis='y', which='major', direction='in', length=12, width=1.1, color=ink, pad=8)
    ax.tick_params(axis='x', which='minor', direction='in', length=7, width=1.0, color=ink)
    ax.tick_params(axis='y', which='minor', direction='in', length=7, width=1.0, color=ink)
    for tick, v in zip(ax.yaxis.get_major_ticks(), y_major):
        if v in y_thick:
            tick.tick1line.set_markeredgewidth(2.6)
    ax.xaxis.get_major_ticks()[1].tick1line.set_markeredgewidth(2.6)

    ax.set_xlabel('y/D', fontsize=18, fontweight='bold', va='center', color=ink)
    ax.xaxis.set_label_coords(0.497, -0.063)
    ax.set_ylabel('z/D', fontsize=18, fontweight='bold', va='center', color=ink)
    ax.yaxis.set_label_coords(-0.128, 0.505)

    ax.text(1.086, 0.458, time_text, ha='right', va='center', fontsize=17.5, color=ink, zorder=5)
    ax.text(1.086, 0.325, alpha_text, ha='right', va='center', fontsize=16.5, color=ink, zorder=5)

    # legend
    cax = px_axes(left + 421, left + 443, top + 47, top + 263)
    for k, name in enumerate(band_names):
        cax.fill_between([0, 1], band_edges[k], band_edges[k + 1], color=colors[name], lw=0)
    cax.hlines(legend_lines, 0, 1, colors='k', lw=1.2)
    cax.set_xlim(0, 1)
    cax.set_ylim(band_edges[0], band_edges[-1])
    cax.set_xticks([])
    cax.yaxis.tick_right()
    cax.set_yticks(legend_levels)
    cax.set_yticklabels(['%.2f' % v for v in legend_levels], fontsize=10, color=ink, ha='right')
    cax.tick_params(axis='y', length=0, pad=27)
    cax.spines['left'].set_visible(False)
    for s in ['top', 'bottom', 'right']:
        cax.spines[s].set_linewidth(1.2)
    for xp in [left + 407, left + 495]:
        fig.add_artist(Line2D([xp / W, xp / W], [1 - (top + 21) / H, 1 - (top + 289) / H], color='#333333', lw=1.5))
    fig.add_artist(Line2D([(left + 435) / W], [1 - (top + 280) / H], marker='.', ms=3, color='k', ls=''))
    fig.text((left + 468) / W, 1 - (top + 40) / H, r'U$_t$/U$_\infty$', fontsize=10, ha='center', va='center', color=ink)

    fig.text((left + 213) / W, 1 - (top + 737) / H, tag, family='Liberation Serif', fontweight='bold',
             fontsize=15.5, ha='center', va='center', color='k')
    return ax


fig = plt.figure(figsize=(W / 100, H / 100), dpi=100)
panel(82, 8, regions_a, tilt_early, size_early, 1.93, 't=0.480 s', 'α=33.14°', '(a)')
panel(754, 8, regions_b, tilt_early, size_early, 1.93, 't=0.480 s', 'α=33.14°', '(b)')
panel(82, 774, regions_c, tilt_late, size_late, 0.02, 't=1.440 s', 'α=54.74°', '(c)')
panel(754, 774, regions_d, tilt_late, size_late, 0.02, 't=1.440 s', 'α=54.74°', '(d)')

fig.savefig('out.png', dpi=100)
